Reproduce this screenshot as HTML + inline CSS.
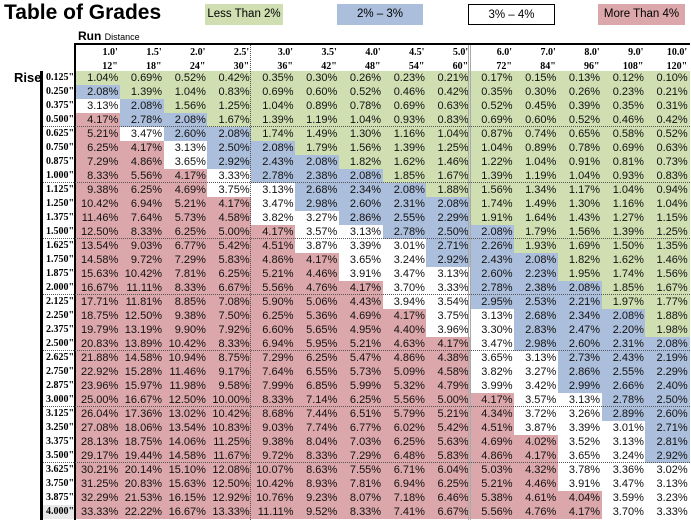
<!DOCTYPE html>
<html><head><meta charset="utf-8">
<style>
body{margin:0;width:691px;height:524px;background:#fff;position:relative;overflow:hidden;font-family:"Liberation Sans",sans-serif}
.a{position:absolute}
.cell{position:absolute;font-size:11px;text-align:right;box-sizing:border-box;padding-right:2px;line-height:14px;color:#111}
.hd{position:absolute;font-family:"Liberation Serif",serif;font-weight:bold;font-size:10px;text-align:right;padding-right:2px;box-sizing:border-box}
.rl{position:absolute;font-family:"Liberation Serif",serif;font-weight:bold;font-size:10px;line-height:14px;padding-left:3px;box-sizing:border-box}
.leg{position:absolute;top:4px;height:21px;line-height:21px;text-align:center;font-size:11.5px;box-sizing:border-box}
</style></head><body>
<div class="a" style="left:4px;top:0px;font-size:21px;font-weight:bold;line-height:26px">Table of Grades</div>
<div class="leg" style="left:205px;width:78px;background:#cfdfb2">Less Than 2%</div>
<div class="leg" style="left:337px;width:86px;background:#abbedb">2% – 3%</div>
<div class="leg" style="left:468px;width:87px;background:#fff;border:1px solid #000">3% – 4%</div>
<div class="leg" style="left:598px;width:87px;background:#dba7aa">More Than 4%</div>
<div class="a" style="left:78px;top:29px;font-size:12px;font-weight:bold">Run <span style="font-weight:normal;font-size:9px">Distance</span></div>
<div class="a" style="left:14px;top:70px;font-size:13px;font-weight:bold">Rise</div>
<div class="a" style="left:74px;top:43px;width:616px;height:2px;background:#000"></div>
<div class="a" style="left:40px;top:71px;width:3px;height:449px;background:#000"></div>
<div class="a" style="left:74px;top:43px;width:2px;height:477px;background:#000"></div>
<div id="t"></div>
<script>
const runFeet=["1.0'","1.5'","2.0'","2.5'","3.0'","3.5'","4.0'","4.5'","5.0'","6.0'","7.0'","8.0'","9.0'","10.0'"];
const runInches=[12,18,24,30,36,42,48,54,60,72,84,96,108,120];
const rises=[0.125,0.25,0.375,0.5,0.625,0.75,0.875,1,1.125,1.25,1.375,1.5,1.625,1.75,1.875,2,2.125,2.25,2.375,2.5,2.625,2.75,2.875,3,3.125,3.25,3.375,3.5,3.625,3.75,3.875,4];
const X0=76,CW=43.8,Y0=71,RH=14;
const t=document.getElementById('t');
function colX(j){return X0+j*CW;}
function rowY(i){return Y0+i*RH;}
runInches.forEach((r,j)=>{
  const h=document.createElement('div');h.className='hd';
  
  
  h.style.left=colX(j)+'px';h.style.width=CW+'px';h.style.top='47px';
  h.innerHTML=runFeet[j]+'<br><span style="line-height:16px">'+r+'"</span>';
  h.style.lineHeight='12px';
  t.appendChild(h);
});
rises.forEach((rise,i)=>{
  const l=document.createElement('div');l.className='rl';
  
  
  l.style.left='43px';l.style.top=rowY(i)+'px';l.style.width='31px';l.style.height=RH+'px';
  l.textContent=rise.toFixed(3)+'"';
  if(i==31)l.style.background='#e8e8e8';
  t.appendChild(l);
  runInches.forEach((run,j)=>{
    const g=rise/run*100;const s=g.toFixed(2);const v=parseFloat(s);
    const c=document.createElement('div');c.className='cell';
    
    
    c.style.left=colX(j)+'px';c.style.top=rowY(i)+'px';c.style.width=(CW+0.5)+'px';c.style.height=RH+'px';
    c.style.background=v<2?'#cfdfb2':v<3?'#abbedb':v<4?'#fff':'#dba7aa';
    c.textContent=s+'%';
    t.appendChild(c);
  });
});
for(let k=1;k<8;k++){
  const d=document.createElement('div');d.className='a';
  
  
  d.style.left='43px';d.style.top=(rowY(k*4)-1)+'px';d.style.width='647px';d.style.borderTop='1px dotted #555';
  t.appendChild(d);
}
const v1=document.createElement('div');v1.className='a';


v1.style.left=(colX(4)-1)+'px';v1.style.top='45px';v1.style.height='475px';v1.style.borderLeft='1px dotted #555';
t.appendChild(v1);
const v2=document.createElement('div');v2.className='a';


v2.style.left=(colX(9)-2)+'px';v2.style.top='45px';v2.style.width='1px';v2.style.height='475px';v2.style.borderLeft='1px solid #aaa';v2.style.borderRight='1px solid #aaa';
t.appendChild(v2);
</script>
</body></html>
